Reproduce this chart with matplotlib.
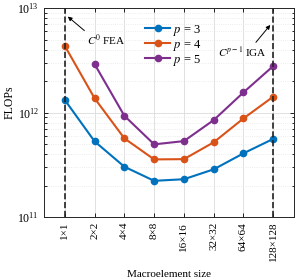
import matplotlib
matplotlib.use("Agg")
import matplotlib.pyplot as plt
from matplotlib.ticker import LogLocator, NullFormatter

plt.rcParams['font.family'] = ['Liberation Serif', 'DejaVu Serif']
plt.rcParams['mathtext.fontset'] = 'stix'
plt.rcParams['font.size'] = 8

categories = ["1×1", "2×2", "4×4", "8×8", "16×16", "32×32", "64×64", "128×128"]
p3 = [1.32e12, 5.3e11, 3.03e11, 2.22e11, 2.30e11, 2.86e11, 4.07e11, 5.6e11]
p4 = [4.35e12, 1.37e12, 5.66e11, 3.56e11, 3.58e11, 5.19e11, 8.79e11, 1.42e12]
p5 = [None, 2.91e12, 9.31e11, 4.96e11, 5.33e11, 8.47e11, 1.56e12, 2.79e12]
series = [("$p$ = 3", p3, "#0072BD"), ("$p$ = 4", p4, "#D95319"), ("$p$ = 5", p5, "#7E2F8E")]

fig = plt.figure(figsize=(2.95, 2.8), dpi=100)
ax = fig.add_axes([0.149, 0.225, 0.848, 0.746])

x = list(range(len(categories)))
for label, vals, c in series:
    xs = [xi for xi, v in zip(x, vals) if v is not None]
    ys = [v for v in vals if v is not None]
    ax.plot(xs, ys, '-o', color=c, lw=1.5, ms=4.5, label=label, zorder=3)

ax.set_yscale('log')
ax.set_ylim(1e11, 1e13)
ax.set_xlim(-0.7, 7.7)
ax.axvline(0, color='#222222', ls='--', lw=1.2, zorder=4)
ax.axvline(7, color='#222222', ls='--', lw=1.2, zorder=4)

ax.set_xticks(x)
ax.set_xticklabels(categories, rotation=90)
ax.yaxis.set_major_locator(LogLocator(base=10, numticks=10))
ax.yaxis.set_minor_locator(LogLocator(base=10, subs=range(2, 10), numticks=20))
ax.yaxis.set_minor_formatter(NullFormatter())
ax.tick_params(which='both', direction='in', top=True, right=True, length=3, width=0.6)
ax.tick_params(which='minor', length=1.8)
ax.tick_params(axis='y', labelsize=8.5)
ax.grid(True, which='major', color='#dcdcdc', lw=0.6)
ax.grid(True, which='minor', axis='y', color='#e6e6e6', ls=':', lw=0.6)
ax.set_axisbelow(True)
for s in ax.spines.values():
    s.set_linewidth(0.7)
    s.set_color('#262626')

ax.set_xlabel("Macroelement size", labelpad=6)
ax.set_ylabel("FLOPs", fontsize=8.5)
ax.yaxis.set_label_coords(-0.112, 0.55)

ax.annotate("$C^0$ FEA", xy=(0.1, 8.3e12), xytext=(0.75, 4.9e12),
            ha='left', va='center',
            arrowprops=dict(arrowstyle='-|>', color='k', lw=0.7, mutation_scale=6,
                            shrinkA=0, shrinkB=0, relpos=(0.0, 1.0)))
ax.annotate("$C^{p-1}$ IGA", xy=(6.9, 6.9e12), xytext=(6.8, 3.8e12),
            ha='right', va='center',
            arrowprops=dict(arrowstyle='-|>', color='k', lw=0.7, mutation_scale=6,
                            shrinkA=0, shrinkB=0, relpos=(0.72, 1.0)))

ax.legend(loc='upper left', bbox_to_anchor=(0.405, 0.93), frameon=False,
          fontsize=9, handlelength=2.0, borderaxespad=0, borderpad=0,
          labelspacing=0.0, handletextpad=0.25)

fig.savefig("out.png", dpi=100)
